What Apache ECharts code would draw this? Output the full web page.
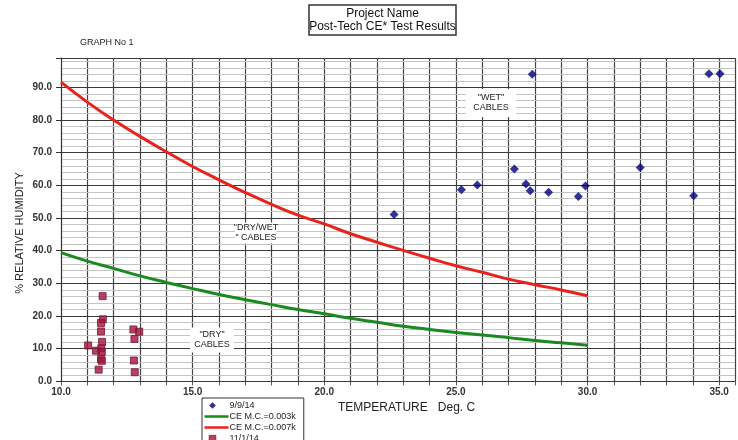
<!DOCTYPE html>
<html>
<head>
<meta charset="utf-8">
<script src="https://cdn.jsdelivr.net/npm/echarts@6/dist/echarts.min.js"></script>
<style>
html,body{margin:0;padding:0;background:#fff;}
#chart{width:738px;height:440px;}
</style>
</head>
<body>
<div id="chart"></div>
<script>
// ---- data ----
const xLabelValues = [10, 15, 20, 25, 30, 35];
const yLabelValues = [0, 10, 20, 30, 40, 50, 60, 70, 80, 90];
const curveTemps = [10,11,12,13,14,15,16,17,18,19,20,21,22,23,24,25,26,27,28,29,30];
const curve003 = [39.4,36.8,34.6,32.3,30.3,28.4,26.6,25.0,23.5,22.0,20.7,19.3,18.1,16.9,15.9,15.0,14.2,13.4,12.5,11.8,11.1];
const curve007 = [91.6,85.5,80.0,75.0,70.3,65.8,61.7,57.8,54.2,50.9,48.2,45.2,42.6,40.1,37.7,35.4,33.4,31.3,29.6,28.0,26.2];
const sep9Temp = [22.65,25.21,25.81,27.22,27.66,27.82,28.52,29.65,29.92,32.0,34.03,27.9,34.61,35.03];
const sep9RH   = [51.1,58.7,60.1,65.0,60.4,58.4,57.9,56.6,59.8,65.5,56.8,94.0,94.2,94.2];
const nov1Temp = [11.58,11.59,11.52,11.52,11.03,11.56,11.33,11.53,11.55,11.52,11.55,11.43,12.75,12.97,12.79,12.77,12.80];
const nov1RH   = [26.1,19.0,17.9,15.3,11.0,12.1,9.4,10.1,9.1,6.9,6.3,3.6,15.9,15.2,13.0,6.4,2.8];
const seriesNames = ['9/9/14', 'CE M.C.=0.003k', 'CE M.C.=0.007k', '11/1/14'];

const zip = (a, b) => a.map((v, i) => [v, b[i]]);
const FONT = 'Liberation Sans, Arial, sans-serif';

// legend icons (24 x 7 boxes with the mark drawn inside)
const PAD = 'M0 0L0.05 0L0 0ZM24 7L23.95 7L24 7Z';
const ICON_LINE = 'path://' + PAD + 'M0 2.3H24V4.7H0Z';
const ICON_DIAMOND = 'path://' + PAD + 'M8 0.2L11.4 3.5L8 6.8L4.6 3.5Z';
const ICON_SQUARE = 'path://' + PAD + 'M4.7 0.4H11.3V6.6H4.7Z';

const chart = echarts.init(document.getElementById('chart'), null, {renderer: 'canvas'});

function annot(cx, cy, w, h, text) {
  return {
    type: 'group', z: 20,
    children: [
      {type: 'rect', z: 20, shape: {x: cx - w / 2, y: cy - h / 2, width: w, height: h}, style: {fill: '#fff'}},
      {type: 'text', z: 21, x: cx, y: cy, style: {text: text, fontSize: 9, fontFamily: FONT, fill: '#222', align: 'center', verticalAlign: 'middle', lineHeight: 10}}
    ]
  };
}

const option = {
  animation: false,
  backgroundColor: '#fff',
  grid: {left: 61, top: 58, width: 676, height: 323.4, containLabel: false},
  xAxis: {
    type: 'value', min: 10, max: 35.6, interval: 1,
    axisLine: {show: true, lineStyle: {color: '#333', width: 1}},
    axisTick: {show: true, length: 4, lineStyle: {color: '#555'}},
    axisLabel: {
      margin: 6, fontSize: 10, fontWeight: 'bold', color: '#333', fontFamily: FONT,
      formatter: v => xLabelValues.includes(Math.round(v * 1000) / 1000) ? v.toFixed(1) : ''
    },
    splitLine: {show: true, lineStyle: {color: '#444', width: 1.2}}
  },
  yAxis: [
    {
      type: 'value', min: 0, max: 99, interval: 10, z: 2,
      axisLine: {show: true, lineStyle: {color: '#333', width: 1}},
      axisTick: {show: true, length: 5, lineStyle: {color: '#333'}},
      axisLabel: {
        margin: 9, fontSize: 10, fontWeight: 'bold', color: '#333', fontFamily: FONT,
        formatter: v => yLabelValues.includes(Math.round(v * 1000) / 1000) ? v.toFixed(1) : ''
      },
      splitLine: {show: true, lineStyle: {color: '#3a3a3a', width: 1.2}}
    },
    {
      type: 'value', min: 0, max: 99, interval: 2, z: 1,
      axisLine: {show: false}, axisTick: {show: false}, axisLabel: {show: false},
      splitLine: {show: true, lineStyle: {color: '#c4c4c4', width: 1}}
    }
  ],
  legend: {
    orient: 'vertical', left: 202, top: 398, height: 60, width: 96,
    data: [
      {name: seriesNames[0], icon: ICON_DIAMOND, itemStyle: {color: '#00007a'}},
      {name: seriesNames[1], icon: ICON_LINE, itemStyle: {color: '#1a8a1f'}},
      {name: seriesNames[2], icon: ICON_LINE, itemStyle: {color: '#e8221c'}},
      {name: seriesNames[3], icon: ICON_SQUARE, itemStyle: {color: '#a8123a', borderColor: '#6e1a35', borderWidth: 1}}
    ],
    itemWidth: 24, itemHeight: 7, itemGap: 2,
    padding: [3, 8, 3, 2],
    borderColor: '#333', borderWidth: 1,
    backgroundColor: '#fff',
    textStyle: {fontSize: 9, fontFamily: FONT, color: '#222', padding: [0, 0, 0, -4]}
  },
  series: [
    {
      name: seriesNames[0], type: 'scatter', yAxisIndex: 0,
      symbol: 'diamond', symbolSize: 9,
      itemStyle: {color: '#00007a'},
      data: zip(sep9Temp, sep9RH), z: 5
    },
    {
      name: seriesNames[1], type: 'line', yAxisIndex: 0, smooth: true, showSymbol: false, symbol: 'none',
      lineStyle: {color: '#1a8a1f', width: 3}, itemStyle: {color: '#1a8a1f'},
      data: zip(curveTemps, curve003), z: 4
    },
    {
      name: seriesNames[2], type: 'line', yAxisIndex: 0, smooth: true, showSymbol: false, symbol: 'none',
      lineStyle: {color: '#e8221c', width: 3}, itemStyle: {color: '#e8221c'},
      data: zip(curveTemps, curve007), z: 4
    },
    {
      name: seriesNames[3], type: 'scatter', yAxisIndex: 0,
      symbol: 'rect', symbolSize: 7,
      itemStyle: {color: '#a8123a', borderColor: '#6e1a35', borderWidth: 1},
      data: zip(nov1Temp, nov1RH), z: 5
    }
  ],
  graphic: [
    {
      type: 'group', z: 30,
      children: [
        {type: 'rect', z: 30, shape: {x: 309, y: 5, width: 147, height: 30}, style: {fill: '#fff', stroke: '#333', lineWidth: 1.5}},
        {type: 'text', z: 31, x: 382.5, y: 13.5, style: {text: 'Project Name', fontSize: 12, fontFamily: FONT, fill: '#111', align: 'center', verticalAlign: 'middle'}},
        {type: 'text', z: 31, x: 382.5, y: 27, style: {text: 'Post-Tech CE* Test Results', fontSize: 12, fontFamily: FONT, fill: '#111', align: 'center', verticalAlign: 'middle'}}
      ]
    },
    {type: 'text', x: 80, y: 43, z: 30, style: {text: 'GRAPH No 1', fontSize: 9, fontFamily: FONT, fill: '#222', verticalAlign: 'middle'}},
    {type: 'text', x: 20, y: 233, rotation: Math.PI / 2, z: 30, style: {text: '% RELATIVE HUMIDITY', fontSize: 11, fontFamily: FONT, fill: '#222', align: 'center', verticalAlign: 'middle'}},
    {type: 'text', x: 338, y: 408, z: 30, style: {text: 'TEMPERATURE   Deg. C', fontSize: 12, fontFamily: FONT, fill: '#222', verticalAlign: 'middle'}},
    annot(491, 103, 50, 28, '"WET"\nCABLES'),
    annot(256, 233, 42, 21, '"DRY/WET\n" CABLES'),
    annot(212, 340, 44, 25, '"DRY"\nCABLES')
  ]
};
chart.setOption(option);
</script>
</body>
</html>
